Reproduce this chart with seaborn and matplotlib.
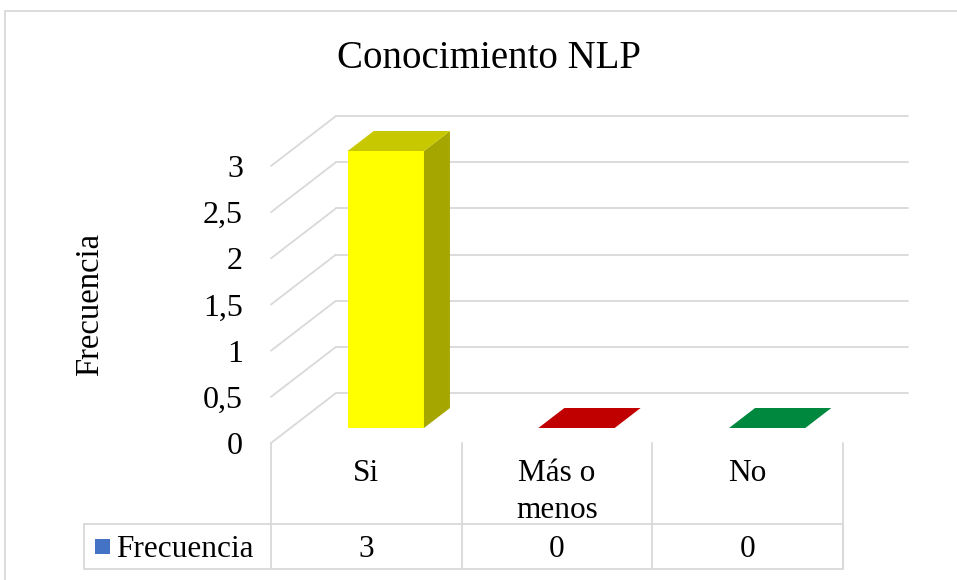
import matplotlib
matplotlib.use("Agg")
import matplotlib.pyplot as plt
import seaborn as sns
import pandas as pd
from matplotlib.patches import Polygon, Rectangle
from matplotlib.lines import Line2D
from matplotlib.transforms import Affine2D, blended_transform_factory
from matplotlib.ticker import FuncFormatter

# ---- data ----
title = "Conocimiento NLP"
series_name = "Frecuencia"
categories = ["Si", "Más o menos", "No"]
category_labels = ["Si", "Más o\nmenos", "No"]
values = [3, 0, 0]
yticks = [0, 0.5, 1, 1.5, 2, 2.5, 3]
front_colors = ["#FFFF00", "#C00000", "#00883E"]
top_colors = ["#C8C800", "#C00000", "#00883E"]
side_colors = ["#A6A600", "#900000", "#006630"]
legend_color = "#4472C4"
grid_color = "#D9D9D9"

sns.set_style("white")
plt.rcParams["font.family"] = ["Liberation Serif", "DejaVu Serif"]

W, H = 957, 580
fig = plt.figure(figsize=(W / 100, H / 100), dpi=100)
# pixel (top-left origin) -> figure transform for layout elements
pxT = Affine2D().scale(1 / W, -1 / H).translate(0, 1) + fig.transFigure

# front plane of the 3D plot
L, R, B, T = 271, 843, 443, 166
ax = fig.add_axes([L / W, (H - B) / H, (R - L) / W, (B - T) / H])

df = pd.DataFrame({"cat": categories, "val": values})
sns.barplot(data=df, x="cat", y="val", hue="cat", palette=front_colors,
            hue_order=categories, order=categories, width=0.4,
            saturation=1, legend=False, ax=ax, zorder=3)
ax.set_xlim(-0.5, 2.5)
ax.set_ylim(0, 3)
sns.despine(ax=ax, left=True, bottom=True, top=True, right=True)
ax.set_xticks([])
ax.set_xlabel("")

# depth vector (65px right, 50px up) in data units
DX = 65 / ((R - L) / 3.0)
DY = 50 / ((B - T) / 3.0)
d0, d1 = 0.3, 0.7

# gridlines: side wall diagonals + back wall lines
for y in yticks:
    ax.plot([-0.5, -0.5 + DX], [y, y + DY], color=grid_color, lw=1.3,
            clip_on=False, zorder=0)
    ax.plot([-0.5 + DX, 2.5 + DX], [y + DY, y + DY], color=grid_color,
            lw=1.3, clip_on=False, zorder=0)

bars = sorted(ax.patches, key=lambda p: p.get_x())
for i, p in enumerate(bars):
    x0, w, h = p.get_x(), p.get_width(), p.get_height()
    p.set_transform(Affine2D().translate(d0 * DX, d0 * DY) + ax.transData)
    p.set_clip_on(False)
    p.set_edgecolor("none")
    top = [(x0 + d0 * DX, h + d0 * DY), (x0 + w + d0 * DX, h + d0 * DY),
           (x0 + w + d1 * DX, h + d1 * DY), (x0 + d1 * DX, h + d1 * DY)]
    side = [(x0 + w + d0 * DX, d0 * DY), (x0 + w + d0 * DX, h + d0 * DY),
            (x0 + w + d1 * DX, h + d1 * DY), (x0 + w + d1 * DX, d1 * DY)]
    if h > 0:
        ax.add_patch(Polygon(side, closed=True, facecolor=side_colors[i],
                             edgecolor="none", clip_on=False, zorder=3))
    ax.add_patch(Polygon(top, closed=True, facecolor=top_colors[i],
                         edgecolor="none", clip_on=False, zorder=4))

# y axis ticks (right aligned)
ax.set_yticks(yticks)
ax.yaxis.set_major_formatter(FuncFormatter(lambda v, _: f"{v:g}".replace(".", ",")))
ax.tick_params(axis="y", length=0, pad=(L - 243) * 0.72, labelsize=23,
               labelcolor="black")

ax.set_ylabel(series_name, fontsize=23.5, color="black")
ax.yaxis.label.set_va("center")
ax.yaxis.set_label_coords((90 - L) / (R - L), ((B - 305) / (B - T)))

# title
fig.text(489, 68, title, transform=pxT, ha="center", va="baseline",
         fontsize=28, color="black")

# data table
bT = blended_transform_factory(ax.transData, pxT)
for xb in [-0.5, 0.5, 1.5, 2.5]:
    fig.add_artist(Line2D([xb, xb], [443, 569], transform=bT,
                          color=grid_color, lw=1.3))
fig.add_artist(Line2D([84, 843, 843, 84, 84], [524, 524, 569, 569, 524],
                      transform=pxT, color=grid_color, lw=1.3))
for i, lab in enumerate(category_labels):
    fig.text(i, 459, lab, transform=bT, ha="center", va="top",
             fontsize=22.5, color="black", linespacing=1.35)
for i, v in enumerate(values):
    fig.text(i, 557, f"{v}", transform=bT, ha="center", va="baseline",
             fontsize=22.5, color="black")
fig.add_artist(Rectangle((95, 554), 15, -15, transform=pxT,
                         facecolor=legend_color, edgecolor="none"))
fig.text(116, 557, series_name, transform=pxT, ha="left", va="baseline",
         fontsize=22.5, color="black")

# chart border
fig.add_artist(Line2D([5, 5, W + 5], [H + 5, 11, 11], transform=pxT,
                      color=grid_color, lw=1.3))

fig.savefig("out.png", dpi=100)
